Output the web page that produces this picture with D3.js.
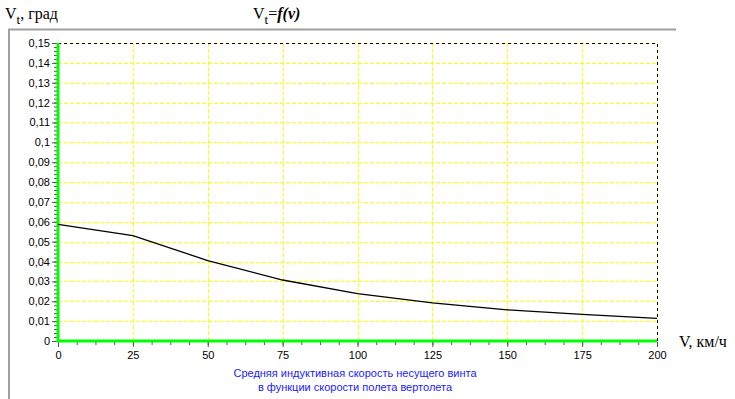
<!DOCTYPE html>
<html>
<head>
<meta charset="utf-8">
<script src="https://cdn.jsdelivr.net/npm/d3@7"></script>
<style>
  body { margin: 0; background: #fff; }
  svg { display: block; }
  .tick text { font-family: Arial, "Liberation Sans", sans-serif; font-size: 11px; fill: #000; }
</style>
</head>
<body>
<script>
   // chart data
   let speeds = [0, 25, 50, 75, 100, 125, 150, 175, 200];
   let vtValues = [0.0587, 0.0530, 0.0405, 0.0307, 0.0238, 0.0192, 0.0157, 0.0134, 0.0114];
   let xTicks = [0, 25, 50, 75, 100, 125, 150, 175, 200];
   let yTicks = [0, 0.01, 0.02, 0.03, 0.04, 0.05, 0.06, 0.07, 0.08, 0.09, 0.1, 0.11, 0.12, 0.13, 0.14, 0.15];
   let captionLines = ['Средняя индуктивная скорость несущего винта', 'в функции скорости полета вертолета'];

   let width = 735;
   let height = 399;
   let plotLeft = 58, plotRight = 657, plotTop = 43, plotBottom = 341;

   let svg = d3.select('body').append('svg')
      .attr('width', width)
      .attr('height', height);

   let xScale = d3.scaleLinear().domain([0, 200]).range([plotLeft, plotRight]);
   let yScale = d3.scaleLinear().domain([0, 0.15]).range([plotBottom, plotTop]);

   let fmt = (d) => String(+d.toFixed(2)).replace('.', ',');

   // gray frame
   svg.append('path')
      .attr('d', 'M9,' + height + ' V29.5 H676')
      .attr('fill', 'none')
      .attr('stroke', '#a0a0a0')
      .attr('stroke-width', 2);

   // grid
   svg.append('g').selectAll('line')
      .data(yTicks)
      .enter()
      .append('line')
      .attr('x1', plotLeft).attr('x2', plotRight)
      .attr('y1', (d) => Math.round(yScale(d)) + 0.5)
      .attr('y2', (d) => Math.round(yScale(d)) + 0.5)
      .attr('stroke', '#ffff00')
      .attr('stroke-dasharray', '4,2');
   svg.append('g').selectAll('line')
      .data(xTicks)
      .enter()
      .append('line')
      .attr('y1', plotTop).attr('y2', plotBottom)
      .attr('x1', (d) => Math.round(xScale(d)) + 0.5)
      .attr('x2', (d) => Math.round(xScale(d)) + 0.5)
      .attr('stroke', '#ffff00')
      .attr('stroke-dasharray', '4,2');

   // top / right dashed border
   svg.append('path')
      .attr('d', 'M' + plotLeft + ',' + (plotTop + 0.5) + ' H' + (plotRight + 0.5) + ' V' + plotBottom)
      .attr('fill', 'none')
      .attr('stroke', '#000')
      .attr('stroke-dasharray', '3,3');

   // minor ticks
   let yMinor = d3.range(0, 0.1501, 0.002);
   let xMinor = d3.range(0, 200.01, 6.25);
   let yAxis = d3.axisLeft(yScale).tickValues(yMinor).tickSize(3).tickFormat('');
   let xAxis = d3.axisBottom(xScale).tickValues(xMinor).tickSize(3).tickFormat('');
   svg.append('g').attr('transform', 'translate(' + (plotLeft - 1) + ',0)').call(yAxis)
      .call((g) => g.select('.domain').remove())
      .selectAll('line').attr('stroke', '#555');
   svg.append('g').attr('transform', 'translate(0,' + (plotBottom + 1) + ')').call(xAxis)
      .call((g) => g.select('.domain').remove())
      .selectAll('line').attr('stroke', '#555');

   // major ticks with labels
   svg.append('g').attr('transform', 'translate(' + (plotLeft - 1) + ',0)')
      .call(d3.axisLeft(yScale).tickValues(yTicks).tickSize(5).tickPadding(2).tickFormat(fmt))
      .call((g) => g.select('.domain').remove())
      .call((g) => g.selectAll('line').attr('stroke', '#555'));
   svg.append('g').attr('transform', 'translate(0,' + (plotBottom + 1) + ')')
      .call(d3.axisBottom(xScale).tickValues(xTicks).tickSize(5).tickPadding(4).tickFormat(d3.format('d')))
      .call((g) => g.select('.domain').remove())
      .call((g) => g.selectAll('line').attr('stroke', '#555'));

   // green axis lines
   svg.append('line')
      .attr('x1', plotLeft).attr('x2', plotLeft).attr('y1', plotTop).attr('y2', plotBottom + 1.5)
      .attr('stroke', '#00ff00').attr('stroke-width', 3);
   svg.append('line')
      .attr('x1', plotLeft).attr('x2', plotRight).attr('y1', plotBottom).attr('y2', plotBottom)
      .attr('stroke', '#00ff00').attr('stroke-width', 3);

   // curve
   let line = d3.line()
      .x((d, i) => xScale(speeds[i]))
      .y((d) => yScale(d));
   svg.append('path')
      .datum(vtValues)
      .attr('d', line)
      .attr('fill', 'none')
      .attr('stroke', '#000')
      .attr('stroke-width', 1.3);

   // titles
   let yTitle = svg.append('text')
      .attr('x', 5).attr('y', 19)
      .attr('font-family', '"Liberation Serif", "Times New Roman", serif')
      .attr('font-size', 16);
   yTitle.append('tspan').text('V');
   yTitle.append('tspan').attr('dy', 5).attr('font-size', 13).text('t');
   yTitle.append('tspan').attr('dy', -5).text(', град');

   let title = svg.append('text')
      .attr('x', 253).attr('y', 19)
      .attr('font-family', '"Liberation Serif", "Times New Roman", serif')
      .attr('font-size', 16);
   title.append('tspan').text('V');
   title.append('tspan').attr('dy', 5).attr('font-size', 13).text('t');
   title.append('tspan').attr('dy', -5).text('=');
   title.append('tspan').attr('font-style', 'italic').attr('font-weight', 'bold').text('f(v)');

   svg.append('text')
      .attr('x', 679).attr('y', 347)
      .attr('font-family', '"Liberation Serif", "Times New Roman", serif')
      .attr('font-size', 16)
      .text('V, км/ч');

   svg.append('g').selectAll('text')
      .data(captionLines)
      .enter()
      .append('text')
      .attr('x', 355)
      .attr('y', (d, i) => 377 + i * 14)
      .attr('text-anchor', 'middle')
      .attr('font-family', 'Arial, "Liberation Sans", sans-serif')
      .attr('font-size', 11)
      .attr('fill', '#1a1aff')
      .text((d) => d);
</script>
</body>
</html>
